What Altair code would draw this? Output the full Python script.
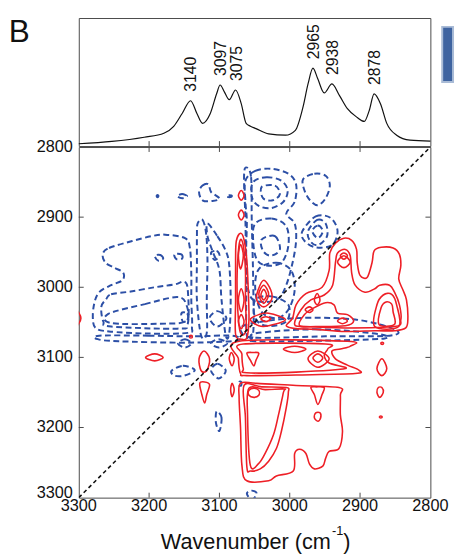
import altair as alt
import pandas as pd

FONT = "Liberation Sans, Arial, Helvetica, sans-serif"
RED = "#ee1f26"
BLUE = "#2c4fa6"
FRAME = "#4a4a4a"
TXT = "#111111"

# ---------------- data ----------------
# top-panel spectrum (wavenumber, relative absorbance)
spec_wn = [3300, 3253, 3207, 3179, 3165, 3153, 3141, 3132, 3124, 3113, 3104, 3099, 3093, 3086,
           3077, 3069, 3062, 3056, 3048, 3030, 3006, 2992, 2981, 2974, 2967, 2960, 2951, 2940,
           2929, 2918, 2904, 2894, 2887, 2880, 2871, 2862, 2848, 2829, 2800]
spec_abs = [0.018, 0.036, 0.069, 0.100, 0.154, 0.254, 0.354, 0.254, 0.177, 0.254, 0.408, 0.477,
            0.423, 0.362, 0.438, 0.331, 0.177, 0.155, 0.136, 0.095, 0.085, 0.123, 0.308, 0.485,
            0.608, 0.523, 0.415, 0.485, 0.392, 0.292, 0.223, 0.192, 0.277, 0.408, 0.331, 0.177,
            0.085, 0.046, 0.038]

peak_wn = [3140, 3097, 3075, 2965, 2938, 2878]
peak_abs = [0.354, 0.477, 0.438, 0.608, 0.485, 0.408]

tick_vals = [3300, 3200, 3100, 3000, 2900, 2800]
inner_ticks = [3200, 3100, 3000, 2900]

diag_x = [3300, 2800]
diag_y = [3300, 2800]

# positive (synchronous) contours, (x, y) in cm-1
pos_contours = [
    [(3070, 3137), (3072, 3158), (3070, 3200), (3068, 3254), (3061, 3276), (3030, 3276), (3019, 3269),
     (2995, 3262), (2993, 3237), (2986, 3231), (2977, 3237), (2972, 3252), (2965, 3259), (2953, 3255),
     (2949, 3244), (2944, 3234), (2930, 3230), (2925, 3206), (2928, 3182), (2928, 3154), (2930, 3143),
     (2991, 3140), (3047, 3137)],
    [(3065, 3140), (3063, 3186), (3061, 3256), (3056, 3262), (3042, 3259), (3030, 3248), (3019, 3230),
     (3012, 3206), (3005, 3172), (3002, 3150), (3005, 3143), (3040, 3142)],
    [(3058, 3144), (3060, 3182), (3056, 3254), (3044, 3251), (3035, 3237), (3023, 3210), (3016, 3182),
     (3009, 3150), (3008, 3145), (3035, 3146)],
    [(3058, 3147), (3051, 3144), (3044, 3147), (3044, 3154), (3051, 3157), (3058, 3154)],
    [(2970, 3143), (2962, 3142), (2951, 3143), (2954, 3153), (2960, 3167), (2965, 3153)],
    [(2963, 3179), (2957, 3179), (2956, 3186), (2960, 3191), (2965, 3186)],
    [(2874, 3143), (2869, 3143), (2867, 3150), (2872, 3157), (2876, 3150)],
    [(2872, 3184), (2869, 3184), (2869, 3186), (2872, 3186)],
    [(3072, 3077), (2918, 3077), (2914, 3084), (2928, 3088), (2940, 3091), (2935, 3102), (2918, 3111),
     (2902, 3118), (2907, 3123), (2991, 3125), (3061, 3126), (3070, 3123), (3073, 3102)],
    [(3066, 3081), (2949, 3081), (2946, 3088), (2951, 3097), (2944, 3108), (2921, 3116), (2991, 3121),
     (3061, 3122), (3066, 3116), (3068, 3095)],
    [(3061, 3094), (3052, 3093), (3044, 3094), (3048, 3104), (3051, 3112), (3056, 3104)],
    [(3009, 3088), (2993, 3084), (2977, 3088), (2993, 3093)],
    [(2974, 3102), (2960, 3091), (2944, 3102), (2960, 3114)],
    [(2967, 3101), (2960, 3095), (2953, 3101), (2960, 3107)],
    [(2869, 3102), (2862, 3116), (2869, 3126), (2876, 3116)],
    [(2870, 3079), (2867, 3079), (2867, 3081), (2870, 3081)],
    [(3205, 3100), (3192, 3095), (3180, 3100), (3192, 3105)],
    [(3122, 3091), (3114, 3102), (3118, 3119), (3126, 3119), (3129, 3102)],
    [(3128, 3137), (3121, 3135), (3114, 3139), (3118, 3153), (3121, 3165), (3125, 3153)],
    [(3083, 3093), (3079, 3102), (3082, 3112), (3086, 3102)],
    [(3082, 3137), (3079, 3146), (3082, 3156), (3084, 3146)],
    [(3142, 3069), (3139, 3069), (3139, 3072), (3142, 3072)],
    [(3304, 3032), (3297, 3044), (3304, 3056), (3308, 3044)],
    [(3069, 2862), (3065, 2869), (3069, 2876), (3073, 2869)],
    [(3069, 2890), (3065, 2897), (3069, 2904), (3073, 2897)],
    [(3070, 2923), (3065, 2932), (3061, 2962), (3059, 3004), (3058, 3046), (3061, 3072), (3069, 3074),
     (3077, 3067), (3077, 3018), (3077, 2962), (3076, 2934)],
    [(3070, 2932), (3066, 2941), (3063, 2976), (3063, 3018), (3062, 3060), (3069, 3067), (3073, 3046),
     (3075, 2990), (3073, 2948)],
    [(3070, 2939), (3066, 2955), (3070, 2974), (3073, 2955)],
    [(3069, 3002), (3065, 3018), (3069, 3035), (3073, 3018)],
    [(3069, 3039), (3065, 3049), (3069, 3059), (3073, 3049)],
    [(3037, 2990), (3027, 3004), (3026, 3018), (3037, 3028), (3047, 3018), (3045, 3004)],
    [(3037, 2997), (3030, 3010), (3037, 3023), (3044, 3010)],
    [(3037, 3003), (3033, 3011), (3037, 3018), (3041, 3011)],
    [(3056, 3046), (3044, 3039), (3030, 3037), (3006, 3046), (3030, 3055), (3044, 3055)],
    [(3041, 3045), (3034, 3042), (3027, 3045), (3034, 3049)],
    [(3005, 3055), (2996, 3044), (2991, 3025), (2977, 3009), (2954, 3000), (2944, 2976), (2943, 2951),
     (2935, 2937), (2923, 2930), (2912, 2933), (2905, 2946), (2904, 2965), (2900, 2983), (2890, 2986),
     (2883, 2965), (2880, 2948), (2870, 2943), (2853, 2944), (2844, 2953), (2842, 2969), (2845, 2988),
     (2839, 3004), (2834, 3018), (2832, 3044), (2835, 3058), (2851, 3062), (2879, 3062), (2921, 3063),
     (2963, 3060), (2991, 3059)],
    [(2993, 3053), (2984, 3032), (2970, 3018), (2951, 3011), (2939, 2997), (2935, 2965), (2932, 2951),
     (2921, 2946), (2914, 2955), (2912, 2979), (2907, 2997), (2893, 3007), (2879, 3002), (2872, 2997),
     (2858, 2997), (2851, 3007), (2844, 3025), (2842, 3046), (2851, 3056), (2921, 3058), (2977, 3056)],
    [(2923, 2955), (2914, 2964), (2923, 2972), (2932, 2964)],
    [(2923, 2951), (2918, 2955), (2923, 2960), (2928, 2955)],
    [(2961, 3009), (2957, 3018), (2961, 3025), (2965, 3018)],
    [(2978, 3032), (2972, 3028), (2967, 3032), (2972, 3036)],
    [(2932, 3048), (2925, 3044), (2918, 3048), (2925, 3052)],
    [(2986, 3055), (2979, 3039), (2965, 3029), (2949, 3022), (2937, 3025), (2932, 3037), (2918, 3039),
     (2909, 3048), (2921, 3055), (2963, 3056)],
    [(2879, 3056), (2876, 3025), (2867, 3011), (2855, 3010), (2848, 3025), (2845, 3056)],
    [(2873, 3053), (2870, 3029), (2863, 3021), (2855, 3024), (2853, 3035), (2851, 3053)],
]

# negative (synchronous) contours, (x, y) in cm-1
neg_contours = [
    [(3266, 2953), (3257, 2944), (3224, 2934), (3196, 2927), (3177, 2925), (3149, 2930), (3142, 2944),
     (3140, 2981), (3140, 3018), (3139, 3056), (3145, 3065), (3201, 3066), (3257, 3063), (3276, 3058),
     (3280, 3044), (3278, 3023), (3271, 3007), (3254, 2997), (3238, 2990), (3237, 2979), (3250, 2972),
     (3262, 2965)],
    [(3261, 3017), (3254, 3010), (3226, 3006), (3192, 3000), (3164, 2996), (3150, 2992), (3145, 3004),
     (3145, 3052), (3160, 3059), (3254, 3056), (3265, 3049), (3268, 3028)],
    [(3258, 3038), (3206, 3024), (3160, 3014), (3147, 3025), (3147, 3048), (3184, 3052), (3254, 3051)],
    [(3192, 2955), (3184, 2954), (3180, 2959), (3187, 2962)],
    [(3164, 2953), (3154, 2953), (3153, 2959), (3161, 2960)],
    [(3189, 2869), (3187, 2869), (3187, 2871), (3189, 2871)],
    [(3160, 2870), (3153, 2867), (3146, 2870), (3153, 2873)],
    [(3129, 2864), (3124, 2855), (3116, 2853), (3112, 2864), (3105, 2869), (3100, 2874), (3110, 2877),
     (3124, 2876)],
    [(3089, 2869), (3083, 2869), (3083, 2871), (3089, 2871)],
    [(3131, 2909), (3124, 2904), (3119, 2923), (3117, 2962), (3118, 3018), (3118, 3065), (3126, 3069),
     (3132, 3018), (3132, 2962), (3132, 2927)],
    [(3117, 2909), (3103, 2927), (3091, 2948), (3086, 2969), (3084, 3018), (3086, 3065), (3091, 3069),
     (3097, 3018), (3100, 2976), (3110, 2948), (3117, 2927)],
    [(3114, 3044), (3103, 3034), (3090, 3044), (3103, 3056)],
    [(3154, 3037), (3146, 3037), (3145, 3046), (3152, 3049)],
    [(3112, 2951), (3104, 2948), (3100, 2955), (3107, 2961)],
    [(3062, 2829), (3055, 2843), (3054, 2906), (3052, 2990), (3052, 3065), (3061, 3069), (3062, 2990),
     (3063, 2906), (3065, 2843)],
    [(3063, 2848), (3049, 2834), (3026, 2831), (3002, 2838), (2991, 2853), (2993, 2878), (3005, 2895),
     (2993, 2909), (2991, 2934), (2996, 2965), (3005, 2997), (3016, 3016), (3035, 3021), (3054, 3016),
     (3061, 2990), (3062, 2948), (3061, 2906), (3063, 2878)],
    [(3052, 2850), (3033, 2843), (3012, 2848), (3003, 2862), (3009, 2878), (3026, 2887), (3044, 2884),
     (3054, 2871)],
    [(3040, 2857), (3021, 2855), (3014, 2867), (3024, 2876), (3038, 2873)],
    [(2981, 2846), (2965, 2838), (2949, 2841), (2943, 2855), (2949, 2873), (2960, 2883), (2971, 2876),
     (2979, 2862)],
    [(3049, 2909), (3026, 2902), (3005, 2913), (3002, 2941), (3012, 2965), (3033, 2969), (3047, 2960),
     (3052, 2934)],
    [(3040, 2932), (3021, 2927), (3014, 2946), (3027, 2955), (3038, 2948)],
    [(2982, 2920), (2963, 2899), (2942, 2901), (2932, 2920), (2940, 2940), (2963, 2943), (2979, 2934)],
    [(2974, 2920), (2961, 2904), (2949, 2909), (2947, 2927), (2960, 2940), (2971, 2934)],
    [(2968, 2920), (2960, 2912), (2953, 2920), (2960, 2930)],
    [(3044, 2974), (3019, 2965), (2998, 2976), (2993, 3004), (3002, 3032), (3019, 3044), (3040, 3035),
     (3049, 3004)],
    [(3049, 3018), (3026, 3013), (3002, 3025), (3005, 3049), (3033, 3055), (3049, 3044)],
    [(3061, 3053), (2991, 3044), (2907, 3046), (2851, 3060), (2858, 3069), (2949, 3070), (3047, 3072),
     (3068, 3065)],
    [(3044, 3065), (2963, 3060), (2879, 3066), (2865, 3073), (2949, 3076), (3047, 3077), (3056, 3072)],
    [(3271, 3069), (3201, 3069), (3138, 3070), (3082, 3069), (3075, 3076), (3145, 3079), (3243, 3077),
     (3273, 3074)],
    [(3159, 3080), (3149, 3074), (3140, 3080), (3149, 3086)],
    [(3112, 3080), (3101, 3074), (3089, 3080), (3101, 3086)],
    [(3168, 3119), (3152, 3112), (3135, 3118), (3150, 3126), (3164, 3126)],
    [(3112, 3119), (3103, 3109), (3091, 3119), (3101, 3130)],
    [(3104, 3177), (3097, 3186), (3100, 3205), (3105, 3193)],
    [(3061, 3294), (3054, 3290), (3047, 3294), (3054, 3303)],
    [(3072, 3135), (3069, 3135), (3069, 3140), (3072, 3140)],
]


def contour_frame(contours, prefix):
    rows = []
    for i, pts in enumerate(contours):
        for k, (x, y) in enumerate(pts):
            rows.append({"cid": f"{prefix}{i}", "k": k, "x": x, "y": y})
    return pd.DataFrame(rows)


pos_df = contour_frame(pos_contours, "p")
neg_df = contour_frame(neg_contours, "n")
spec_df = pd.DataFrame({"wn": spec_wn, "a": spec_abs})
peaks_df = pd.DataFrame({"wn": peak_wn, "a": peak_abs, "lbl": [str(v) for v in peak_wn]})
ticks_df = pd.DataFrame({"v": inner_ticks})
labels_df = pd.DataFrame({"v": tick_vals, "lbl": [str(v) for v in tick_vals]})
diag_df = pd.DataFrame({"x": diag_x, "y": diag_y})

W, H_MAIN, H_TOP = 357, 356, 130
LBL_SIZE = 16.5

xs = alt.Scale(domain=[2800, 3300], reverse=True, nice=False, zero=False)
ys = alt.Scale(domain=[2800, 3300], reverse=True, nice=False, zero=False)
ys_top = alt.Scale(domain=[0, 1], nice=False, zero=False)

neg_layer = alt.Chart(neg_df).mark_line(
    interpolate="cardinal-closed", clip=True, color=BLUE, strokeWidth=2.0, strokeDash=[6, 3.5]
).encode(
    x=alt.X("x:Q", scale=xs, axis=None),
    y=alt.Y("y:Q", scale=ys, axis=None),
    detail="cid:N",
    order="k:Q",
)

pos_layer = alt.Chart(pos_df).mark_line(
    interpolate="cardinal-closed", clip=True, color=RED, strokeWidth=1.6
).encode(
    x=alt.X("x:Q", scale=xs, axis=None),
    y=alt.Y("y:Q", scale=ys, axis=None),
    detail="cid:N",
    order="k:Q",
)

diag_layer = alt.Chart(diag_df).mark_line(
    color=TXT, strokeDash=[4, 3], strokeWidth=1.6, clip=True
).encode(
    x=alt.X("x:Q", scale=xs, axis=None),
    y=alt.Y("y:Q", scale=ys, axis=None),
)

tick_bottom = alt.Chart(ticks_df).mark_rule(color=FRAME).encode(
    x=alt.X("v:Q", scale=xs, axis=None), y=alt.value(H_MAIN), y2=alt.value(H_MAIN - 5))
tick_top = alt.Chart(ticks_df).mark_rule(color=FRAME).encode(
    x=alt.X("v:Q", scale=xs, axis=None), y=alt.value(0), y2=alt.value(5))
tick_left = alt.Chart(ticks_df).mark_rule(color=FRAME).encode(
    y=alt.Y("v:Q", scale=ys, axis=None), x=alt.value(0), x2=alt.value(5))
tick_right = alt.Chart(ticks_df).mark_rule(color=FRAME).encode(
    y=alt.Y("v:Q", scale=ys, axis=None), x=alt.value(W), x2=alt.value(W - 5))

x_labels = alt.Chart(labels_df).mark_text(
    align="center", baseline="middle", fontSize=LBL_SIZE, font=FONT, color=TXT
).encode(x=alt.X("v:Q", scale=xs, axis=None), y=alt.value(H_MAIN + 9), text="lbl:N")
y_labels = alt.Chart(labels_df).transform_filter("datum.v < 3300").mark_text(
    align="right", baseline="middle", fontSize=LBL_SIZE, font=FONT, color=TXT
).encode(y=alt.Y("v:Q", scale=ys, axis=None), x=alt.value(-6), text="lbl:N")
y_label_last = alt.Chart(labels_df).transform_filter("datum.v >= 3300").mark_text(
    align="right", baseline="middle", fontSize=LBL_SIZE, font=FONT, color=TXT, dy=-5
).encode(y=alt.Y("v:Q", scale=ys, axis=None), x=alt.value(-6), text="lbl:N")

title_main = alt.Chart(pd.DataFrame({"t": ["Wavenumber (cm"]})).mark_text(
    align="right", baseline="alphabetic", fontSize=22, font=FONT, color=TXT
).encode(x=alt.value(256), y=alt.value(408.5), text="t:N")
title_sup = alt.Chart(pd.DataFrame({"t": ["-1"]})).mark_text(
    align="left", baseline="alphabetic", fontSize=13, font=FONT, color=TXT
).encode(x=alt.value(257), y=alt.value(394), text="t:N")
title_close = alt.Chart(pd.DataFrame({"t": [")"]})).mark_text(
    align="left", baseline="alphabetic", fontSize=22, font=FONT, color=TXT
).encode(x=alt.value(268.5), y=alt.value(408.5), text="t:N")

main = alt.layer(
    neg_layer, pos_layer, diag_layer, tick_bottom, tick_top, tick_left, tick_right,
    x_labels, y_labels, y_label_last, title_main, title_sup, title_close
).properties(width=W, height=H_MAIN)

# ---------------- top spectrum panel ----------------
spec_layer = alt.Chart(spec_df).mark_line(color=TXT, strokeWidth=1.2, interpolate="monotone").encode(
    x=alt.X("wn:Q", scale=xs, axis=None),
    y=alt.Y("a:Q", scale=ys_top, axis=None),
)
peak_labels = alt.Chart(peaks_df).mark_text(
    angle=270, align="left", baseline="middle", dx=9, fontSize=16, font=FONT, color=TXT
).encode(
    x=alt.X("wn:Q", scale=xs, axis=None),
    y=alt.Y("a:Q", scale=ys_top, axis=None),
    text="lbl:N",
)
top_ticks = alt.Chart(ticks_df).mark_rule(color=FRAME).encode(
    x=alt.X("v:Q", scale=xs, axis=None), y=alt.value(H_TOP), y2=alt.value(H_TOP - 5))
panel_letter = alt.Chart(pd.DataFrame({"t": ["B"]})).mark_text(
    align="left", baseline="alphabetic", fontSize=32, font=FONT, color=TXT
).encode(x=alt.value(-71), y=alt.value(24), text="t:N")
edge_box = alt.Chart(pd.DataFrame({"t": ["box"]})).mark_rect(
    fill="#3e63a0", stroke="#a9bbd6", strokeWidth=2
).encode(x=alt.value(369), x2=alt.value(380), y=alt.value(9), y2=alt.value(65))

top = alt.layer(spec_layer, peak_labels, top_ticks, panel_letter, edge_box).properties(width=W, height=H_TOP)

chart = alt.vconcat(top, main, spacing=1, bounds="flush").properties(
    padding={"left": 8, "top": 11, "right": 0, "bottom": 0}
).configure_view(stroke=FRAME, strokeWidth=1)

chart.save("out.html", embed_options={"renderer": "svg", "actions": False})
